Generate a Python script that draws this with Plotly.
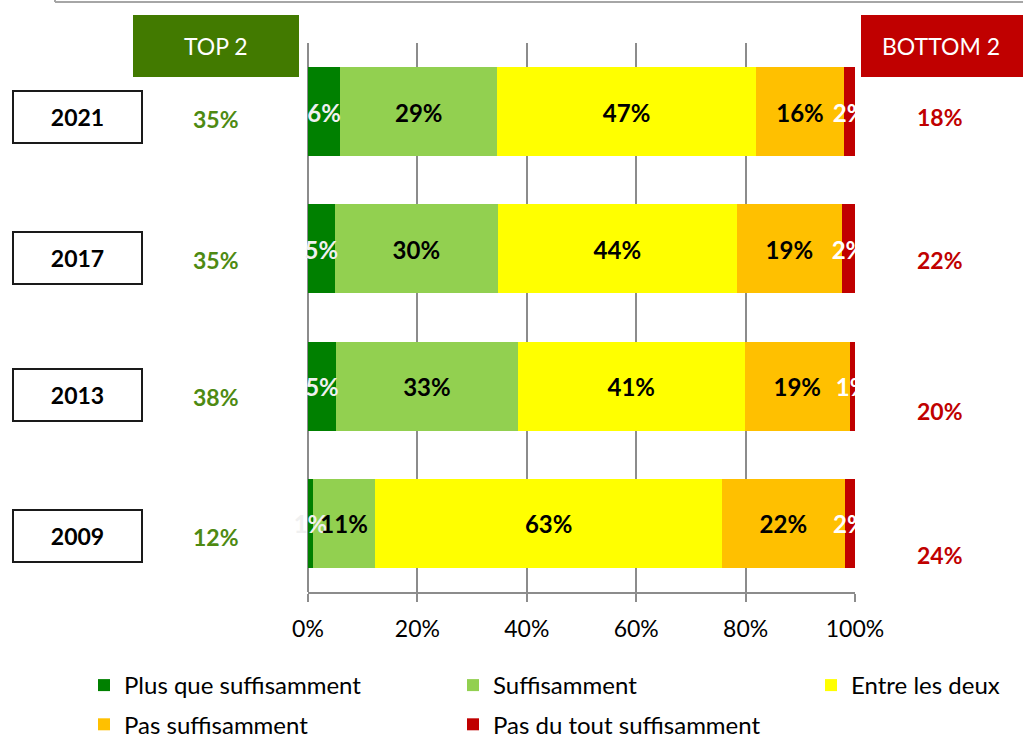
import plotly.graph_objects as go

# ---------------- data ----------------
years = ['2021', '2017', '2013', '2009']
category_order = ['2009', '2013', '2017', '2021']
series_names = ['Plus que suffisamment', 'Suffisamment', 'Entre les deux',
                'Pas suffisamment', 'Pas du tout suffisamment']
plus_que = [5.9, 4.9, 5.1, 0.9]
suffisamment = [28.7, 29.8, 33.3, 11.4]
entre_deux = [47.3, 43.7, 41.4, 63.4]
pas_suff = [16.1, 19.2, 19.3, 22.4]
pas_du_tout = [2.0, 2.4, 0.9, 1.9]
top2 = [35, 35, 38, 12]
bottom2 = [18, 22, 20, 24]
x_tick_vals = [0, 20, 40, 60, 80, 100]
x_tick_text = ['0%', '20%', '40%', '60%', '80%', '100%']

# ---------------- style ----------------
FONT = 'Lato'
colors = ['#008000', '#92D050', '#FFFF00', '#FFC000', '#C00000']
label_colors = ['#F0F0F0', '#000000', '#000000', '#000000', '#FFFFFF']
legend_ids = ['legend', 'legend2', 'legend3', 'legend', 'legend2']
TOP_GREEN = '#427A00'
TOP_TEXT = '#4E8A12'
RED = '#C00000'
GRID = '#8C8C8C'

values = [plus_que, suffisamment, entre_deux, pas_suff, pas_du_tout]

fig = go.Figure()
for name, vals, col, lg in zip(series_names, values, colors, legend_ids):
    fig.add_trace(go.Bar(
        y=years, x=vals, name=name, orientation='h',
        marker=dict(color=col, line=dict(width=0)),
        width=0.65, legend=lg, legendgroup=name, hoverinfo='skip'))

# segment labels, centred on each segment (on an overlaid twin axis)
cum = [0.0] * len(years)
for vals, tc in zip(values, label_colors):
    mids = [c + v / 2 for c, v in zip(cum, vals)]
    fig.add_trace(go.Scatter(
        x=mids, y=years, mode='text', yaxis='y2',
        text=[f'{round(v)}%' for v in vals],
        textfont=dict(family=FONT, size=24, color=tc, weight='bold'),
        textposition='middle center', cliponaxis=False,
        showlegend=False, hoverinfo='skip'))
    cum = [c + v for c, v in zip(cum, vals)]

L, R, T, B = 308, 168, 43, 146
W, H = 1023, 738
pw, ph = W - L - R, H - T - B


def px_x(px):
    return (px - L) / pw


def px_y(py):
    return (H - B - py) / ph


annotations = []
year_shift = [-5, -9, -9, -13]
top_shift = [-7, -11, -11, -14]
bot_shift = [-5, -11, -25, -32]
for i, y in enumerate(years):
    yi = category_order.index(y)
    annotations.append(dict(
        x=px_x(77), xref='paper', y=yi, yref='y', yshift=year_shift[i],
        text=f'<b>{y}</b>', showarrow=False,
        font=dict(family=FONT, size=23, color='#000000'),
        width=127, height=50, bordercolor='#1A1A1A', borderwidth=2,
        borderpad=0, bgcolor='white', xanchor='center', yanchor='middle'))
    annotations.append(dict(
        x=px_x(216), xref='paper', y=yi, yref='y', yshift=top_shift[i],
        text=f'<b>{top2[i]}%</b>', showarrow=False,
        xanchor='center', yanchor='middle',
        font=dict(family=FONT, size=23, color=TOP_TEXT)))
    annotations.append(dict(
        x=px_x(940), xref='paper', y=yi, yref='y', yshift=bot_shift[i],
        text=f'<b>{bottom2[i]}%</b>', showarrow=False,
        xanchor='center', yanchor='middle',
        font=dict(family=FONT, size=23, color=RED)))

annotations.append(dict(x=px_x(216), xref='paper', y=px_y(46), yref='paper',
                        text='TOP 2', showarrow=False,
                        xanchor='center', yanchor='middle',
                        font=dict(family=FONT, size=23, color='white')))
annotations.append(dict(x=px_x(941), xref='paper', y=px_y(46), yref='paper',
                        text='BOTTOM 2', showarrow=False,
                        xanchor='center', yanchor='middle',
                        font=dict(family=FONT, size=23, color='white')))

shapes = [
    dict(type='rect', xref='paper', yref='paper', x0=px_x(133), x1=px_x(299),
         y0=px_y(77), y1=px_y(15), fillcolor=TOP_GREEN, line=dict(width=0), layer='below'),
    dict(type='rect', xref='paper', yref='paper', x0=px_x(861), x1=px_x(1030),
         y0=px_y(77), y1=px_y(15), fillcolor=RED, line=dict(width=0), layer='below'),
    dict(type='line', xref='paper', yref='paper', x0=px_x(55), x1=px_x(1030),
         y0=px_y(2), y1=px_y(2), line=dict(color='#A6A6A6', width=2)),
    dict(type='line', xref='paper', yref='paper', x0=px_x(55), x1=px_x(55),
         y0=px_y(-5), y1=px_y(2), line=dict(color='#A6A6A6', width=2)),
]

leg_common = dict(orientation='v', yanchor='top', xanchor='left',
                  font=dict(family=FONT, size=24, color='#000000'),
                  bgcolor='rgba(0,0,0,0)', traceorder='grouped',
                  tracegroupgap=5, y=px_y(663))

label_shift = 4 / (ph / 4)  # ~4 px downward for segment labels

fig.update_layout(
    width=W, height=H,
    margin=dict(l=L, r=R, t=T, b=B, autoexpand=False),
    paper_bgcolor='white', plot_bgcolor='white',
    barmode='stack', bargap=0.35,
    font=dict(family=FONT, size=23, color='#000000'),
    xaxis=dict(range=[0, 100], tickmode='array', tickvals=x_tick_vals,
               ticktext=x_tick_text,
               showgrid=True, gridcolor=GRID, gridwidth=2,
               zeroline=True, zerolinecolor=GRID, zerolinewidth=2,
               showline=True, linecolor=GRID, linewidth=2,
               ticks='outside', ticklen=8, tickwidth=2, tickcolor=GRID,
               ticklabelstandoff=7,
               tickfont=dict(family=FONT, size=23, color='#000000'),
               fixedrange=True),
    yaxis=dict(type='category', categoryorder='array',
               categoryarray=category_order,
               range=[-0.5, 3.5], showticklabels=False, showgrid=False,
               zeroline=False, showline=False, ticks='', fixedrange=True),
    yaxis2=dict(type='category', categoryorder='array',
                categoryarray=category_order, overlaying='y',
                range=[-0.5 + label_shift, 3.5 + label_shift],
                showticklabels=False, showgrid=False, zeroline=False,
                showline=False, ticks='', fixedrange=True),
    legend=dict(leg_common, x=px_x(84)),
    legend2=dict(leg_common, x=px_x(453)),
    legend3=dict(leg_common, x=px_x(811)),
    annotations=annotations,
    shapes=shapes,
)

fig.write_html('out.html', config={'displayModeBar': False},
               post_script="document.body.style.margin='0';"
                           "document.body.style.overflow='hidden';")
